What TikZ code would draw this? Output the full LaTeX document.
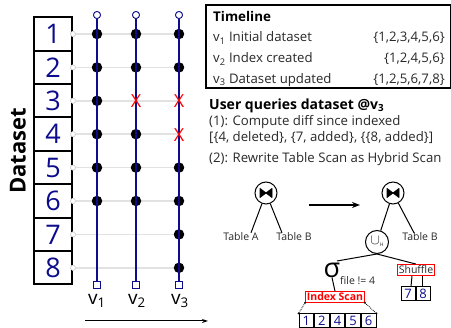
\documentclass[tikz,border=0pt]{standalone}
\usepackage{fontspec}
\setmainfont{Open Sans}
\usetikzlibrary{arrows.meta,positioning}
\definecolor{navy}{RGB}{12,12,140}
\definecolor{gridgray}{RGB}{226,226,226}
\definecolor{txtgray}{RGB}{40,40,40}
\newcommand{\fs}[1]{\fontsize{#1}{#1}\selectfont}
\tikzset{
 dbox/.style={draw, line width=2pt, minimum width=38pt, minimum height=33.4pt, inner sep=0pt, font=\fs{27}, text=navy},
 port/.style={circle, draw=gray!35, fill=white, minimum size=5pt, inner sep=0pt, line width=0.6pt},
 gline/.style={draw=gridgray, line width=1.6pt},
 vline/.style={draw=navy, line width=2pt},
 topc/.style={circle, draw=navy, fill=white, minimum size=7pt, inner sep=0pt, line width=0.8pt},
 botsq/.style={rectangle, draw=navy, fill=white, minimum size=7.5pt, inner sep=0pt, line width=0.8pt},
 bdot/.style={circle, fill=black, minimum size=10.5pt, inner sep=0pt},
 xmark/.style={text=red, font=\fs{18}, inner sep=0pt},
 vlab/.style={font=\fs{19}, inner sep=0pt},
 tl/.style={anchor=west, inner sep=0pt, font=\fs{13.2}, text=txtgray},
 tr/.style={anchor=east, inner sep=0pt, font=\fs{13.2}, text=txtgray},
 small/.style={inner sep=0pt, font=\fs{10.5}, text=txtgray},
 opc/.style={circle, draw, line width=1pt, minimum size=22pt, inner sep=0pt},
 tedge/.style={draw, line width=1pt},
 redbox/.style={draw=red, line width=1.3pt, inner sep=1.2pt, font=\fs{10.5}},
 cell/.style={draw, line width=1pt, minimum width=14.6pt, minimum height=14pt, inner sep=0pt, text=navy, font=\fs{13}},
 scell/.style={draw, line width=1pt, minimum width=14pt, minimum height=14pt, inner sep=0pt, text=navy, font=\fs{13}},
}
\newcommand{\bowtiepic}[1]{%
 \filldraw[black, line width=0.8pt, line join=round] ([xshift=-6pt,yshift=-4.5pt]#1) -- ([xshift=-6pt,yshift=4.5pt]#1) -- (#1) -- cycle;
 \filldraw[black, line width=0.8pt, line join=round] ([xshift=6pt,yshift=-4.5pt]#1) -- ([xshift=6pt,yshift=4.5pt]#1) -- (#1) -- cycle;}
\begin{document}
\begin{tikzpicture}[x=1pt,y=-1pt]
\useasboundingbox (0,0) rectangle (451,328);
% dataset boxes
\foreach \i in {1,...,8}{
  \node[dbox] (d\i) at (53,{34+(\i-1)*33.4}) {\i};
  \node[port] (p\i) at (73,{34+(\i-1)*33.4}) {};
  \coordinate (e\i) at (180,{34+(\i-1)*33.4});
}
\foreach \i in {1,...,8}{ \draw[gline] (p\i) -- (e\i); }
\foreach \i in {1,...,8}{ \node[port] at (p\i) {}; }
\node[rotate=90, font=\bfseries\fs{22}, inner sep=0pt] (ds) at (18,151) {Dataset};
% version columns
\foreach \c/\x in {1/97,2/136,3/179}{
  \node[topc] (vt\c) at (\x,15) {};
  \node[botsq] (vb\c) at (\x,285) {};
}
% dots
\foreach \i in {1,...,6}{ \node[bdot] (a\i) at (97,{34+(\i-1)*33.4}) {}; }
\foreach \i in {1,2,4,5,6}{ \node[bdot] (b\i) at (136,{34+(\i-1)*33.4}) {}; }
\foreach \i in {1,2,5,6,7,8}{ \node[bdot] (c\i) at (179,{34+(\i-1)*33.4}) {}; }
\foreach \c in {1,2,3}{ \draw[vline] (vt\c) -- (vb\c); }
\foreach \c/\x in {1/97,2/136,3/179}{
  \node[topc] at (\x,15) {};
  \node[botsq] at (\x,285) {};
}
\node[xmark] (x23) at (136,101) {X};
\node[xmark] (x33) at (179,101) {X};
\node[xmark] (x34) at (179,135) {X};
\node[vlab] (l1) at (97,301) {v\textsubscript{1}};
\node[vlab] (l2) at (137,301) {v\textsubscript{2}};
\node[vlab] (l3) at (180,301) {v\textsubscript{3}};
\coordinate (ta) at (85,321);
\coordinate (tb) at (208,321);
\draw[-{Stealth[length=6pt,width=4pt]}, line width=1pt] (ta) -- (tb);
% timeline box
\node[draw, line width=1.6pt, minimum width=245pt, minimum height=83pt, inner sep=0pt, anchor=north west] (tbox) at (205,4) {};
\node[tl, font=\bfseries\fs{13.4}, text=black] (tt) at (213,16) {Timeline};
\node[tl] (r1) at (213,38) {v\textsubscript{1} Initial dataset};
\node[tl] (r2) at (213,59) {v\textsubscript{2} Index created};
\node[tl] (r3) at (213,80) {v\textsubscript{3} Dataset updated};
\node[tr] (s1) at (445,38) {\{1,2,3,4,5,6\}};
\node[tr] (s2) at (445,59) {\{1,2,4,5,6\}};
\node[tr] (s3) at (445,80) {\{1,2,5,6,7,8\}};
% query text
\node[tl, font=\bfseries\fs{14}, text=black] (uq) at (209,106) {User queries dataset @v\textsubscript{3}};
\node[tl] (q1) at (209,122) {(1): Compute diff since indexed};
\node[tl] (q2) at (209,138) {[\{4, deleted\}, \{7, added\}, \{\{8, added\}]};
\node[tl] (q3) at (209,159) {(2): Rewrite Table Scan as Hybrid Scan};
% left plan
\node[opc] (jl) at (266,193) {};
\bowtiepic{jl.center}
\node[small] (tA) at (241,237) {Table A};
\node[small] (tB) at (294,237) {Table B};
\draw[tedge] (jl) -- ([xshift=10pt]tA.north);
\draw[tedge] (jl) -- ([xshift=-12pt]tB.north);
\coordinate (ar1) at (309,205);
\coordinate (ar2) at (360,205);
\draw[-{Stealth[length=8pt,width=6pt]}, line width=1.6pt] (ar1) -- (ar2);
% right plan
\node[opc] (jr) at (393,193) {};
\bowtiepic{jr.center}
\node[opc, minimum size=23pt] (un) at (377,242) {};
\node[inner sep=0pt, text=txtgray] at (377,242) {\fs{15}$\cup$\raisebox{-2pt}{\fs{5}H}};
\node[small] (tB2) at (420,237) {Table B};
\draw[tedge] (jr) -- (un);
\draw[tedge] (jr) -- ([xshift=-6pt]tB2.north);
\node[inner sep=0pt, font=\fs{27}] (sig) at (332,270) {σ};
\node[small, anchor=west] (fl) at (340,281) {file != 4};
\coordinate (sl) at (337,261);
\draw[tedge] (un.south) -- (sl);
\node[redbox, text=txtgray] (sh) at (416,270) {Shuffle};
\draw[tedge] (un.south) -- (sh.north);
\node[redbox, text=red, font=\bfseries\fs{10.5}] (is) at (335,297) {Index Scan};
\draw[tedge] (sig.south) -- (is.north);
\node[scell] (s7) at (408,294) {7};
\node[scell, right=0pt of s7] (s8) {8};
\draw[tedge] ([xshift=-4pt]sh.south) -- ([xshift=3pt]s7.north);
\draw[tedge] ([xshift=6pt]sh.south) -- ([xshift=-1pt]s8.north);
\node[cell] (k1) at (306.3,321) {1};
\node[cell, right=0pt of k1] (k2) {2};
\node[cell, right=0pt of k2] (k3) {4};
\node[cell, right=0pt of k3] (k4) {5};
\node[cell, right=0pt of k4] (k5) {6};
\draw[densely dotted, line width=0.8pt] (is.south west) -- (k1.north west);
\draw[densely dotted, line width=0.8pt] (is.south east) -- (k5.north east);
\fill (is.south west) circle (1pt) (k1.north west) circle (1pt) (is.south east) circle (1pt) (k5.north east) circle (1pt);
\end{tikzpicture}
\end{document}
